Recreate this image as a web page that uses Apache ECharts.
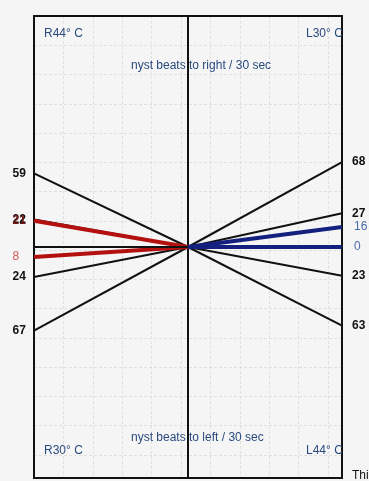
<!DOCTYPE html>
<html>
<head>
<meta charset="utf-8">
<script src="https://cdn.jsdelivr.net/npm/echarts@6/dist/echarts.min.js"></script>
<style>
html,body{margin:0;padding:0;background:#f5f5f5;}
#c{width:369px;height:481px;}
</style>
</head>
<body>
<div id="c"></div>
<script>
// ---- data ----
// positive = nyst beats to right / 30 sec, negative = beats to left
const leftBlack  = [59, 22, -24, -67];   // left half (R ear) black lines
const leftRed    = [21, -8];             // left half red lines
const rightBlack = [68, 27, -23, -63];   // right half (L ear) black lines
const rightBlue  = [16, 0];              // right half blue lines
const cornerLabels = { tl: 'R44° C', tr: 'L30° C', bl: 'R30° C', br: 'L44° C' };
const topText = 'nyst beats to right / 30 sec';
const bottomText = 'nyst beats to left / 30 sec';
const yRange = 185;

const FONT = "'Liberation Sans', Arial, sans-serif";
const TXT_BLUE = '#2a4a7e';

function makeSeries(values, side, color, width, labelColor, bold, dist, z) {
  return values.map(v => {
    const outer = {
      value: [side, v],
      label: {
        show: true,
        formatter: String(Math.abs(v)),
        position: side < 0 ? 'left' : 'right',
        distance: dist,
        align: 'left',
        color: labelColor,
        fontFamily: FONT,
        fontSize: 12,
        fontWeight: bold ? 'bold' : 'normal'
      }
    };
    const inner = { value: [0, 0], label: { show: false } };
    return {
      type: 'line',
      xAxisIndex: 0, yAxisIndex: 0,
      data: side < 0 ? [outer, inner] : [inner, outer],
      symbol: 'circle', symbolSize: 0, showSymbol: true,
      lineStyle: { color: color, width: width },
      itemStyle: { color: color },
      silent: true, animation: false, z: z
    };
  });
}

const series = [].concat(
  makeSeries(leftBlack, -1, '#111', 2, '#111', true, 21.5, 3),
  makeSeries(rightBlack, 1, '#111', 2, '#111', true, 10, 3),
  makeSeries([leftRed[0]], -1, '#b51010', 4, '#6e1515', true, 21.5, 4),
  makeSeries([leftRed[1]], -1, '#b51010', 4, '#d65a5a', false, 21.5, 4),
  makeSeries(rightBlue, 1, '#14207e', 4, '#4a6aa8', false, 12, 4)
);
// zero baseline on the left half
series[0].markLine = {
  silent: true, symbol: 'none', label: { show: false },
  lineStyle: { color: '#111', width: 2, type: 'solid' },
  data: [[{ coord: [-1, 0] }, { coord: [0, 0] }]]
};
// grid-paper series (empty) for background grid
series.push({ type: 'line', xAxisIndex: 1, yAxisIndex: 1, data: [], silent: true });

const chart = echarts.init(document.getElementById('c'), null, { renderer: 'canvas' });
const G = { left: 34, top: 16, width: 308, height: 462 };
const gridLine = { show: true, lineStyle: { color: '#e0e0e0', width: 1, type: [3, 2] } };
chart.setOption({
  backgroundColor: '#f5f5f5',
  animation: false,
  grid: [
    Object.assign({ show: true, borderColor: '#111', borderWidth: 2, backgroundColor: 'transparent', z: 2 }, G),
    Object.assign({ show: false, z: 0 }, G)
  ],
  xAxis: [
    { type: 'value', gridIndex: 0, min: -1, max: 1,
      axisLine: { show: false }, axisTick: { show: false }, axisLabel: { show: false }, splitLine: { show: false } },
    { type: 'value', gridIndex: 1, min: 0, max: 308, interval: 29.4,
      axisLine: { show: false }, axisTick: { show: false }, axisLabel: { show: false }, splitLine: gridLine }
  ],
  yAxis: [
    { type: 'value', gridIndex: 0, min: -yRange, max: yRange,
      axisLine: { show: true, onZero: true, lineStyle: { color: '#111', width: 2 } },
      axisTick: { show: false }, axisLabel: { show: false }, splitLine: { show: false } },
    { type: 'value', gridIndex: 1, min: 0, max: 462, interval: 29.25, inverse: true,
      axisLine: { show: false }, axisTick: { show: false }, axisLabel: { show: false }, splitLine: gridLine }
  ],
  series: series,
  graphic: [
    { type: 'text', left: 44, top: 28, z: 10, style: { text: cornerLabels.tl, fill: TXT_BLUE, font: '12px ' + FONT } },
    { type: 'text', left: 306, top: 28, z: 10, style: { text: cornerLabels.tr, fill: TXT_BLUE, font: '12px ' + FONT } },
    { type: 'text', left: 131, top: 60, z: 10, style: { text: topText, fill: TXT_BLUE, font: '12px ' + FONT } },
    { type: 'text', left: 131, top: 432, z: 10, style: { text: bottomText, fill: TXT_BLUE, font: '12px ' + FONT } },
    { type: 'text', left: 44, top: 445, z: 10, style: { text: cornerLabels.bl, fill: TXT_BLUE, font: '12px ' + FONT } },
    { type: 'text', left: 306, top: 445, z: 10, style: { text: cornerLabels.br, fill: TXT_BLUE, font: '12px ' + FONT } },
    { type: 'text', left: 352, top: 470, z: 10, style: { text: 'This', fill: '#111', font: '12px ' + FONT } }
  ]
});
</script>
</body>
</html>
